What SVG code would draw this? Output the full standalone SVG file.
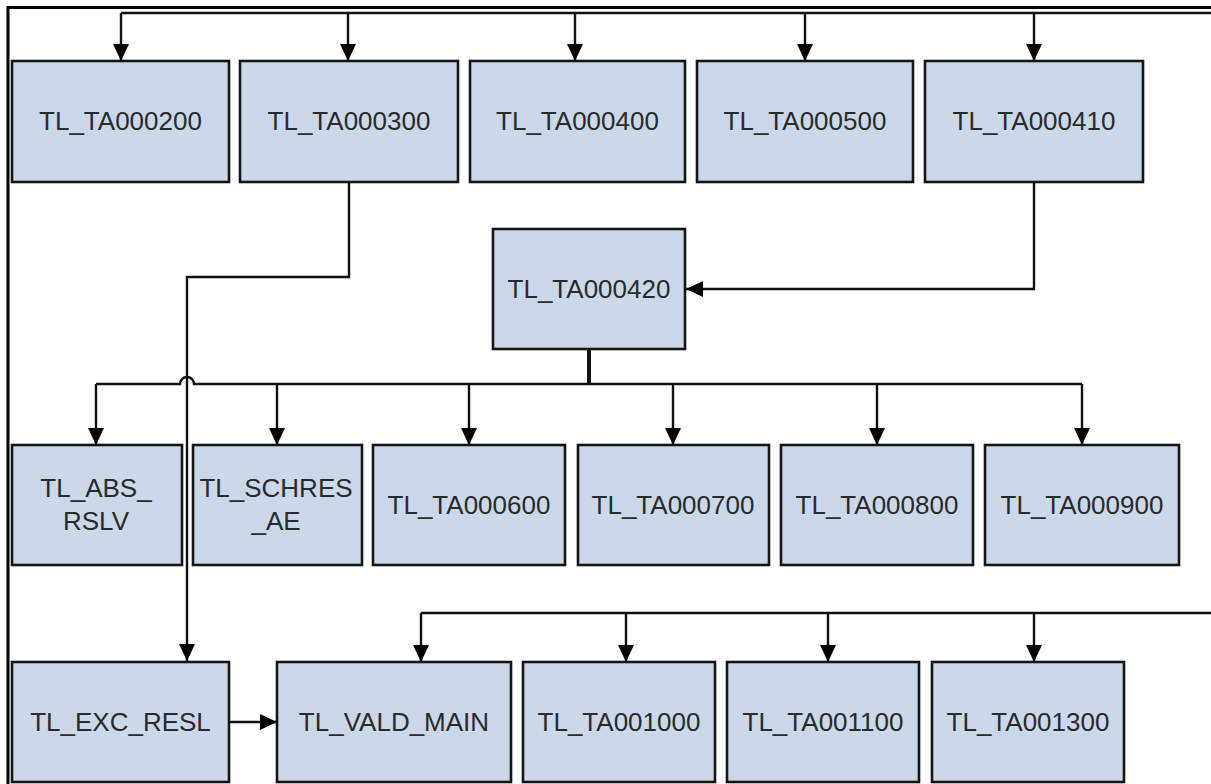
<svg xmlns="http://www.w3.org/2000/svg" width="1211" height="784" viewBox="0 0 1211 784">
<style>
.box{fill:#cbd8ea;stroke:#151515;stroke-width:2.6}
.lbl{font-family:"Liberation Sans",Arial,sans-serif;font-size:26px;fill:#2a2a2a;text-anchor:middle}
.ln{fill:none;stroke:#111;stroke-width:2.4}
.thick{fill:none;stroke:#111;stroke-width:4}
.frame{fill:none;stroke:#000;stroke-width:3}
</style>
<defs>
<marker id="ah" markerUnits="userSpaceOnUse" markerWidth="18" markerHeight="18" refX="17" refY="8" orient="auto">
<path d="M0,0 L17,8 L0,16 z" fill="#000"/>
</marker>
</defs>
<rect width="1211" height="784" fill="#fff"/>
<path class="frame" d="M8,790 V7.5 H1220"/>

<g id="connectors">
<path class="ln" d="M1211,13 H121"/>
<path class="ln" d="M121,13 V61" marker-end="url(#ah)"/>
<path class="ln" d="M348,13 V61" marker-end="url(#ah)"/>
<path class="ln" d="M575,13 V61" marker-end="url(#ah)"/>
<path class="ln" d="M805,13 V61" marker-end="url(#ah)"/>
<path class="ln" d="M1034,13 V61" marker-end="url(#ah)"/>
<path class="ln" d="M1034,182 V289 H686" marker-end="url(#ah)"/>
<path class="ln" d="M349,182 V277 H187 V661" marker-end="url(#ah)"/>
<path class="thick" d="M589,349 V385"/>
<path class="ln" d="M96,384 H180 A7,7 0 0 1 194,384 H1082"/>
<path class="ln" d="M96,384 V445" marker-end="url(#ah)"/>
<path class="ln" d="M277,384 V445" marker-end="url(#ah)"/>
<path class="ln" d="M469,384 V445" marker-end="url(#ah)"/>
<path class="ln" d="M673,384 V445" marker-end="url(#ah)"/>
<path class="ln" d="M877,384 V445" marker-end="url(#ah)"/>
<path class="ln" d="M1082,384 V445" marker-end="url(#ah)"/>
<path class="ln" d="M1211,613 H421"/>
<path class="ln" d="M421,613 V662" marker-end="url(#ah)"/>
<path class="ln" d="M626,613 V662" marker-end="url(#ah)"/>
<path class="ln" d="M828,613 V662" marker-end="url(#ah)"/>
<path class="ln" d="M1034,613 V662" marker-end="url(#ah)"/>
<path class="ln" d="M229,722 H277" marker-end="url(#ah)"/>
</g>

<g id="n200"><rect class="box" x="12" y="61" width="217" height="121"/><text class="lbl" x="120.5" y="130">TL_TA000200</text></g>
<g id="n300"><rect class="box" x="240" y="61" width="218" height="121"/><text class="lbl" x="349" y="130">TL_TA000300</text></g>
<g id="n400"><rect class="box" x="470" y="61" width="215" height="121"/><text class="lbl" x="577.5" y="130">TL_TA000400</text></g>
<g id="n500"><rect class="box" x="697" y="61" width="216" height="121"/><text class="lbl" x="805" y="130">TL_TA000500</text></g>
<g id="n410"><rect class="box" x="925" y="61" width="218" height="121"/><text class="lbl" x="1034" y="130">TL_TA000410</text></g>

<g id="n420"><rect class="box" x="493" y="229" width="192" height="120"/><text class="lbl" x="589" y="298">TL_TA000420</text></g>

<g id="nabs"><rect class="box" x="12" y="445" width="170" height="120"/><text class="lbl" x="96" y="497">TL_ABS_</text><text class="lbl" x="96" y="530">RSLV</text></g>
<g id="nsch"><rect class="box" x="193" y="445" width="169" height="120"/><text class="lbl" x="276" y="497">TL_SCHRES</text><text class="lbl" x="276" y="530">_AE</text></g>
<g id="n600"><rect class="box" x="373" y="445" width="192" height="120"/><text class="lbl" x="469" y="514">TL_TA000600</text></g>
<g id="n700"><rect class="box" x="578" y="445" width="191" height="120"/><text class="lbl" x="673" y="514">TL_TA000700</text></g>
<g id="n800"><rect class="box" x="781" y="445" width="192" height="120"/><text class="lbl" x="877" y="514">TL_TA000800</text></g>
<g id="n900"><rect class="box" x="985" y="445" width="194" height="120"/><text class="lbl" x="1082" y="514">TL_TA000900</text></g>

<g id="nexc"><rect class="box" x="12" y="662" width="217" height="120"/><text class="lbl" x="120.5" y="731">TL_EXC_RESL</text></g>
<g id="nvald"><rect class="box" x="277" y="662" width="234" height="120"/><text class="lbl" x="394" y="731">TL_VALD_MAIN</text></g>
<g id="n1000"><rect class="box" x="523" y="662" width="192" height="120"/><text class="lbl" x="619" y="731">TL_TA001000</text></g>
<g id="n1100"><rect class="box" x="727" y="662" width="192" height="120"/><text class="lbl" x="823" y="731">TL_TA001100</text></g>
<g id="n1300"><rect class="box" x="932" y="662" width="192" height="120"/><text class="lbl" x="1028" y="731">TL_TA001300</text></g>
</svg>
